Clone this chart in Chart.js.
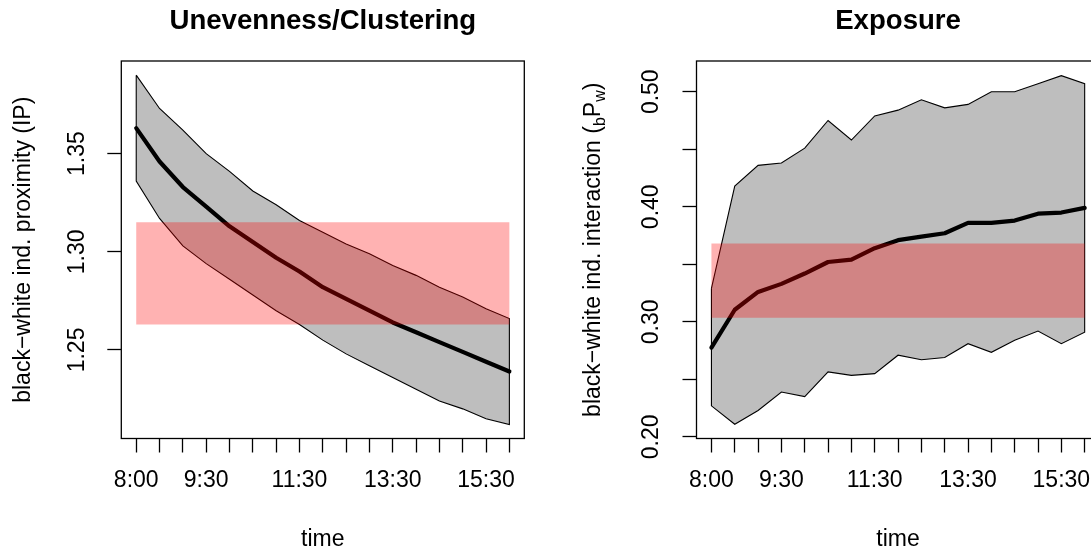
<!DOCTYPE html>
<html>
<head>
<meta charset="utf-8">
<script src="https://cdn.jsdelivr.net/npm/chart.js@4"></script>
<style>
  html, body { margin: 0; padding: 0; background: #fff; overflow: hidden; }
  body { width: 1091px; height: 554px; position: relative; }
  canvas { position: absolute; top: 0; }
  #prox { left: 0; width: 546px; height: 554px; }
  #inter { left: 546px; width: 560px; height: 554px; }
</style>
</head>
<body>
<canvas id="prox" width="546" height="554"></canvas>
<canvas id="inter" width="560" height="554"></canvas>
<script>
// half-hour steps, only some get a label (R drops the overlapping ones)
const times = ['8:00', '8:30', '9:00', '9:30', '10:00', '10:30', '11:00', '11:30', '12:00',
  '12:30', '13:00', '13:30', '14:00', '14:30', '15:00', '15:30', '16:00'];
const shownTimes = ['8:00', '9:30', '11:30', '13:30', '15:30'];

// unevenness / clustering (IP)
const proxUpper = [1.390, 1.373, 1.362, 1.350, 1.341, 1.331, 1.324, 1.316, 1.310, 1.304, 1.299, 1.293, 1.288, 1.282, 1.277, 1.271, 1.266];
const proxMean = [1.363, 1.346, 1.333, 1.323, 1.313, 1.305, 1.297, 1.290, 1.282, 1.276, 1.270, 1.264, 1.259, 1.254, 1.249, 1.244, 1.239];
const proxLower = [1.336, 1.317, 1.303, 1.294, 1.286, 1.278, 1.270, 1.263, 1.255, 1.248, 1.242, 1.236, 1.230, 1.224, 1.220, 1.215, 1.212];
const proxBand = [1.263, 1.315];
const proxTicks = [1.25, 1.30, 1.35];
const proxTickLabels = ['1.25', '1.30', '1.35'];

// exposure (bPw)
const interUpper = [0.329, 0.418, 0.436, 0.438, 0.451, 0.475, 0.458, 0.479, 0.484, 0.493, 0.486, 0.489, 0.500, 0.500, 0.507, 0.514, 0.507];
const interMean = [0.2775, 0.3105, 0.326, 0.333, 0.342, 0.352, 0.354, 0.364, 0.371, 0.374, 0.377, 0.386, 0.386, 0.388, 0.394, 0.395, 0.399];
const interLower = [0.227, 0.211, 0.223, 0.239, 0.235, 0.2565, 0.2535, 0.255, 0.271, 0.267, 0.269, 0.281, 0.2735, 0.284, 0.292, 0.281, 0.291];
const interBand = [0.3035, 0.368];
const interTicks = [0.20, 0.25, 0.30, 0.35, 0.40, 0.45, 0.50];
const interTickLabels = ['0.20', '', '0.30', '', '0.40', '', '0.50'];

const FONT = '"Liberation Sans", Arial, Helvetica, sans-serif';

function pts(vals) {
  return vals.map((v, i) => ({ x: i, y: v }));
}
// closed polygon: along the upper bound, back along the lower one
function ribbon(upper, lower) {
  const p = pts(upper).concat(pts(lower).reverse());
  p.push(p[0]);
  return p;
}
function band(lohi) {
  const last = times.length - 1;
  return [{ x: 0, y: lohi[0] }, { x: last, y: lohi[0] }, { x: last, y: lohi[1] },
    { x: 0, y: lohi[1] }, { x: 0, y: lohi[0] }];
}

function drawParts(ctx, parts) {
  const big = '23px ' + FONT, small = '16px ' + FONT;
  let total = 0;
  parts.forEach(p => {
    ctx.font = p.sub ? small : big;
    p.w = ctx.measureText(p.t).width;
    total += p.w;
  });
  let x = -total / 2;
  ctx.textAlign = 'left';
  ctx.textBaseline = 'alphabetic';
  parts.forEach(p => {
    ctx.font = p.sub ? small : big;
    ctx.fillText(p.t, x, p.sub ? 5 : 0);
    x += p.w;
  });
}

// box, main title and axis titles the way R's plot() puts them
const frame = {
  id: 'frame',
  afterDatasetsDraw(chart, args, opts) {
    const { ctx, chartArea: a } = chart;
    ctx.save();
    ctx.strokeStyle = '#000';
    ctx.lineWidth = 1.3;
    ctx.strokeRect(a.left, a.top, a.right - a.left, a.bottom - a.top);
    ctx.fillStyle = '#000';
    ctx.textAlign = 'center';
    ctx.textBaseline = 'alphabetic';
    const cx = (a.left + a.right) / 2;
    ctx.font = 'bold 27.6px ' + FONT;
    ctx.fillText(opts.title, cx, 29);
    ctx.font = '23px ' + FONT;
    ctx.fillText('time', cx, 546);
    ctx.translate(opts.yTitleX, (a.top + a.bottom) / 2);
    ctx.rotate(-Math.PI / 2);
    drawParts(ctx, opts.yTitle);
    ctx.restore();
  }
};

function makeChart(id, c) {
  const tickFont = { family: FONT, size: 23 };
  const grid = { drawOnChartArea: false, drawTicks: true, tickLength: 14, tickWidth: 1.3, tickColor: '#000' };
  return new Chart(document.getElementById(id), {
    type: 'line',
    data: {
      datasets: [
        { data: band(c.band), fill: 'shape', backgroundColor: 'rgba(255,0,0,0.3)', borderWidth: 0, pointRadius: 0 },
        { data: pts(c.mean), fill: false, borderColor: '#000', borderWidth: 4.2, pointRadius: 0,
          borderJoinStyle: 'round', borderCapStyle: 'round' },
        { data: ribbon(c.upper, c.lower), fill: 'shape', backgroundColor: '#bebebe', borderColor: '#000',
          borderWidth: 1.1, pointRadius: 0 }
      ]
    },
    options: {
      responsive: false,
      animation: false,
      events: [],
      layout: { padding: { top: 61, right: c.padRight, left: 0, bottom: 0 } },
      plugins: {
        legend: { display: false },
        tooltip: { enabled: false },
        frame: { title: c.title, yTitle: c.yTitle, yTitleX: c.yTitleX }
      },
      scales: {
        x: {
          type: 'linear',
          min: -0.64,
          max: times.length - 1 + 0.64,
          afterBuildTicks: s => { s.ticks = times.map((t, i) => ({ value: i })); },
          afterFit: s => { s.height = 115.5; s.paddingLeft = 0; s.paddingRight = 0; },
          ticks: {
            autoSkip: false, minRotation: 0, maxRotation: 0, padding: 14, color: '#000', font: tickFont,
            callback: v => shownTimes.includes(times[v]) ? times[v] : ''
          },
          grid: grid,
          border: { display: false }
        },
        y: {
          type: 'linear',
          min: c.yMin,
          max: c.yMax,
          afterBuildTicks: s => { s.ticks = c.ticks.map(v => ({ value: v })); },
          afterFit: s => { s.width = c.yWidth; s.paddingTop = 0; s.paddingBottom = 0; },
          ticks: {
            autoSkip: false, minRotation: 90, maxRotation: 90, crossAlign: 'center', padding: c.tickPad,
            color: '#000', font: tickFont,
            callback: (v, i) => c.tickLabels[i]
          },
          grid: grid,
          border: { display: false }
        }
      }
    },
    plugins: [frame]
  });
}

makeChart('prox', {
  title: 'Unevenness/Clustering',
  yTitle: [{ t: 'black\u2212white ind. proximity (IP)' }],
  yTitleX: 29.5,
  upper: proxUpper, mean: proxMean, lower: proxLower, band: proxBand,
  ticks: proxTicks, tickLabels: proxTickLabels,
  yMin: 1.2049, yMax: 1.3972,
  yWidth: 121.3, padRight: 21.7, tickPad: 7
});

makeChart('inter', {
  title: 'Exposure',
  yTitle: [{ t: 'black\u2212white ind. interaction (' }, { t: 'b', sub: true }, { t: 'P' }, { t: 'w', sub: true }, { t: ')' }],
  yTitleX: 54,
  upper: interUpper, mean: interMean, lower: interLower, band: interBand,
  ticks: interTicks, tickLabels: interTickLabels,
  yMin: 0.1986, yMax: 0.5267,
  yWidth: 150.5, padRight: 6.4, tickPad: 8
});
</script>
</body>
</html>
